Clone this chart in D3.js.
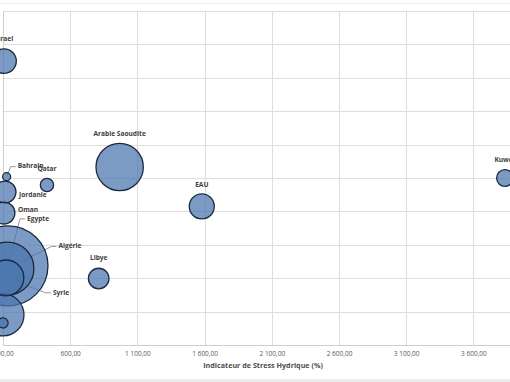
<!DOCTYPE html>
<html lang="fr">
<head>
    <meta charset="UTF-8">
    <title>Stress hydrique</title>
    <style>
        body {
            margin: 0;
            background-color: #fff;
        }

        svg {
            display: block;
            overflow: hidden;
        }
    </style>
</head>
<body>
    <script src="https://cdnjs.cloudflare.com/ajax/libs/d3/7.8.5/d3.min.js"></script>
<script>
    const width = 510;
    const height = 382;

    // data
    const countries = ["Egypte", "Algérie", "Arabie Saoudite", "Syrie", "Autre 1", "Israel", "EAU", "Jordanie", "Oman", "Libye", "Kuweit", "Qatar", "Bahrain", "Autre 2"];
    const stress = [137, 133, 968, 122, 100, 108, 1579, 115, 107, 812, 3835, 427, 127, 100];
    const yValues = [23.7, 22.9, 53.3, 20.1, 9.0, 85.0, 41.5, 45.8, 39.5, 19.9, 50.0, 47.9, 50.4, 6.6];
    const sizes = [80, 35, 28, 16, 22, 7.5, 7.8, 6, 6, 5.3, 3.5, 2.2, 0.8, 1.3];
    const labelled = [true, true, true, true, false, true, true, true, true, true, true, true, true, false];

    const xTicks = d3.range(100, 4101, 500);
    const yTicks = d3.range(0, 101, 10);
    const xTitle = "Indicateur de Stress Hydrique (%)";

    // label placement (px offsets from bubble centre), anchor, leader line
    const labelPos = {
        "Egypte": [19, -47, "start", true],
        "Algérie": [51, -22, "start", true],
        "Arabie Saoudite": [0, -33, "middle", false],
        "Syrie": [47, 15, "start", true],
        "Israel": [0, -22, "middle", false],
        "EAU": [0, -21, "middle", false],
        "Jordanie": [14, 3, "start", false],
        "Oman": [14, -3, "start", false],
        "Libye": [0, -20, "middle", false],
        "Kuweit": [1, -18, "middle", false],
        "Qatar": [0, -16, "middle", false],
        "Bahrain": [11, -10, "start", true]
    };

    const data = countries.map((c, i) => ({
        name: c, x: stress[i], y: yValues[i], size: sizes[i], label: labelled[i]
    }));

    const fr = d3.formatLocale({decimal: ",", thousands: "\u00a0", grouping: [3], currency: ["", "\u00a0€"]});
    const fmt = fr.format(",.2f");

    const svg = d3.select("body").append("svg")
        .attr("width", width)
        .attr("height", height);

    // frame bits at top and bottom
    svg.append("line")
        .attr("x1", 0).attr("x2", width)
        .attr("y1", 3.5).attr("y2", 3.5)
        .attr("stroke", "#ebebeb");
    svg.append("rect")
        .attr("x", 0).attr("y", 379)
        .attr("width", width).attr("height", 3)
        .attr("fill", "#ededed");

    const x = d3.scaleLinear()
        .domain([100, 4100])
        .range([3, 3 + 4000 * 67.2 / 500]);
    const y = d3.scaleLinear()
        .domain([0, 100])
        .range([345, 11]);
    const r = d3.scaleSqrt()
        .domain([0, 80])
        .range([0, 40]);

    // grid
    svg.append("g")
        .selectAll("line")
        .data(yTicks)
        .join("line")
            .attr("x1", x(100)).attr("x2", width)
            .attr("y1", d => Math.round(y(d)) + 0.5)
            .attr("y2", d => Math.round(y(d)) + 0.5)
            .attr("stroke", d => d === 0 ? "#cfcfcf" : "#dedede")
            .attr("stroke-width", 1);
    svg.append("g")
        .selectAll("line")
        .data(xTicks)
        .join("line")
            .attr("x1", d => Math.round(x(d)) + 0.5)
            .attr("x2", d => Math.round(x(d)) + 0.5)
            .attr("y1", y(100)).attr("y2", y(0))
            .attr("stroke", d => d === 100 ? "#cfcfcf" : "#dedede")
            .attr("stroke-width", 1);

    // x axis labels
    const xAxis = svg.append("g")
        .attr("transform", `translate(0,${y(0)})`)
        .call(d3.axisBottom(x).tickValues(xTicks).tickFormat(fmt).tickSize(0).tickPadding(6));
    xAxis.select(".domain").remove();
    xAxis.selectAll("text")
        .attr("fill", "#595959")
        .style("font-family", "'Open Sans', sans-serif")
        .style("font-size", "6.5px");

    svg.append("text")
        .attr("x", 263)
        .attr("y", 366)
        .attr("text-anchor", "middle")
        .attr("dominant-baseline", "middle")
        .attr("fill", "#4d4d4d")
        .style("font-family", "'Open Sans', sans-serif")
        .style("font-weight", "bold")
        .style("font-size", "7.2px")
        .text(xTitle);

    const labels = data.filter(d => d.label && labelPos[d.name]);

    // leader lines go under the bubbles
    svg.append("g")
        .selectAll("polyline")
        .data(labels.filter(d => labelPos[d.name][3]))
        .join("polyline")
            .attr("points", d => {
                const p = labelPos[d.name];
                const lx = x(d.x) + p[0], ly = y(d.y) + p[1];
                return [[lx - 2, ly], [lx - 7, ly], [x(d.x), y(d.y)]].join(" ");
            })
            .attr("fill", "none")
            .attr("stroke", "#8c8c8c")
            .attr("stroke-width", 0.9);

    // bubbles, largest first
    svg.append("g")
        .selectAll("circle")
        .data(data.slice().sort((a, b) => b.size - a.size))
        .join("circle")
            .attr("cx", d => x(d.x))
            .attr("cy", d => y(d.y))
            .attr("r", d => r(d.size))
            .attr("fill", "#4a74ad")
            .attr("fill-opacity", 0.72)
            .attr("stroke", "#1c2a40")
            .attr("stroke-width", 1.3);

    svg.append("g")
        .selectAll("text")
        .data(labels)
        .join("text")
            .attr("x", d => x(d.x) + labelPos[d.name][0])
            .attr("y", d => y(d.y) + labelPos[d.name][1])
            .attr("text-anchor", d => labelPos[d.name][2])
            .attr("dominant-baseline", "middle")
            .attr("fill", "#404040")
            .style("font-family", "'Open Sans', sans-serif")
            .style("font-weight", "bold")
            .style("font-size", "6.6px")
            .text(d => d.name);
</script>
</body>
</html>
